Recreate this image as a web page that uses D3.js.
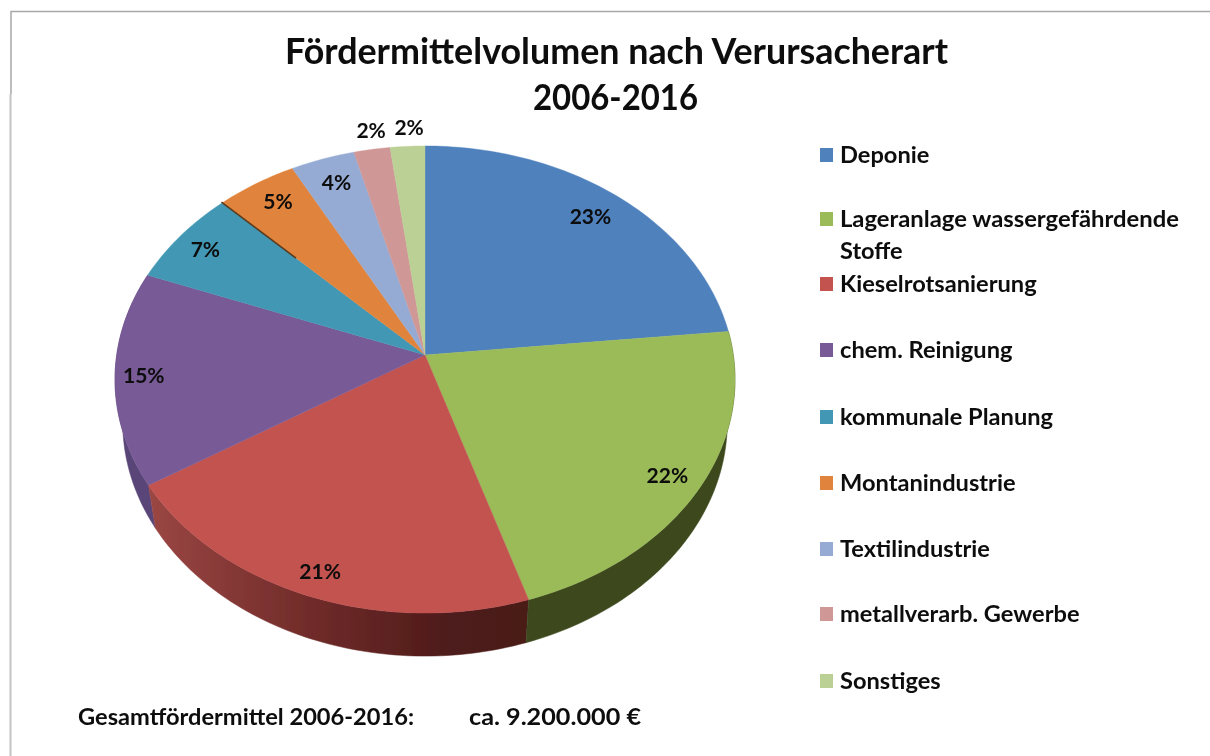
<!DOCTYPE html>
<html><head><meta charset="utf-8">
<script src="https://cdn.jsdelivr.net/npm/d3@7/dist/d3.min.js"></script>
<style>html,body{margin:0;padding:0;background:#fff;overflow:hidden}svg{display:block}text{font-family:Lato,"Open Sans",sans-serif;font-weight:700;fill:#0b0b0b}</style>
</head><body><svg id="c" width="1210" height="756"></svg>
<script>
const categories = ["Deponie","Lageranlage wassergefährdende Stoffe","Kieselrotsanierung","chem. Reinigung","kommunale Planung","Montanindustrie","Textilindustrie","metallverarb. Gewerbe","Sonstiges"];
const shares = [23.4,21.8,21.0,14.8,6.7,4.7,3.7,2.1,2.0];
const colors = ["#4f81bd","#9bbb59","#c25250","#785a96","#4298b4","#e0843c","#95abd3","#d09797","#bbd095"];
const sideColors = ["#3a5578","#3d4a1e","#7a3532","#5a4578","#2b6578","#8f5426","#5f6f8a","#8a6060","#7a8a60"];
const titleLines = ["Fördermittelvolumen nach Verursacherart","2006-2016"];
const footLabel = "Gesamtfördermittel 2006-2016:";
const footValue = "ca. 9.200.000 €";

const svg = d3.select("#c");
const defs = svg.append("defs");
const grad = defs.append("linearGradient").attr("id","redSide").attr("gradientUnits","userSpaceOnUse")
  .attr("x1",150).attr("x2",526).attr("y1",0).attr("y2",0);
grad.append("stop").attr("offset",0).attr("stop-color","#9a4643");
grad.append("stop").attr("offset",.45).attr("stop-color","#6e2a28");
grad.append("stop").attr("offset",.8).attr("stop-color","#4e1b1a");
grad.append("stop").attr("offset",1).attr("stop-color","#4a1a19");
defs.append("filter").attr("id","soft").attr("x","-5%").attr("y","-5%").attr("width","110%").attr("height","110%")
  .append("feGaussianBlur").attr("stdDeviation",.55);

// frame
svg.append("path").attr("d","M1210 11.5H11V94").attr("fill","none").attr("stroke","#a8a8a8").attr("stroke-width",1.5);
svg.append("path").attr("d","M10.5 94V756").attr("fill","none").attr("stroke","#c4c4c4").attr("stroke-width",2);

const root=svg.append("g").attr("filter","url(#soft)");

// perspective projection of a disc
const cx=425, k=-0.105, bTop=308.3, aTop=231, yTop=355;
const proj=(t,r,level)=>{
  const u=r*Math.sin(t), v=-r*Math.cos(t), d=1+k*v;
  const b=level?bTop*0.975:bTop, y0=level?yTop+43:yTop;
  return [cx+b*u/d, y0+aTop*v/d];
};
const pie=d3.pie().sort(null).value(d=>d)(shares);
const line=d3.line();
const arcPts=(a,b,level)=>{
  const n=Math.max(4,Math.ceil((b-a)/0.02));
  return d3.range(n+1).map(i=>proj(a+(b-a)*i/n,1,level));
};
// side walls, front slices only
const g=root.append("g");
[3,2,1].forEach(i=>{
  const p=pie[i];
  const pts=arcPts(p.startAngle,p.endAngle,0).concat(arcPts(p.startAngle,p.endAngle,1).reverse());
  g.append("path").attr("d",line(pts)+"Z").attr("fill",i===2?"url(#redSide)":sideColors[i]).attr("stroke",i===2?"url(#redSide)":sideColors[i]).attr("stroke-width",.5);
});
// top faces
pie.forEach((p,i)=>{
  const pts=[proj(0,0,0)].concat(arcPts(p.startAngle,p.endAngle,0));
  g.append("path").attr("d",line(pts)+"Z").attr("fill",colors[i]).attr("stroke",colors[i]).attr("stroke-width",.4);
});
// dark seam between teal and orange
{const a=pie[5].startAngle;
 g.append("path").attr("d",line([proj(a,.62,0),proj(a,1.005,0)])).attr("stroke","#5b3a1c").attr("stroke-width",1.6).attr("fill","none");}

// labels
const lr=[.74,.86,.94,.94,.8,.78,.72,1.1,1.09];
const lo=[[21,-19],[9,5],[5,-9],[10,-2],[-22,-10],[-13,-19],[-13,-29],[4,-1],[3,-3]];
pie.forEach((p,i)=>{
  const m=(p.startAngle+p.endAngle)/2, q=proj(m,lr[i],0);
  root.append("text").attr("x",q[0]+lo[i][0]).attr("y",q[1]+lo[i][1]).attr("text-anchor","middle").attr("dominant-baseline","central")
    .attr("font-size",21).text(d3.format(".0f")(shares[i])+"%");
});

// title
titleLines.forEach((s,i)=>root.append("text").attr("x",[285,533][i]).attr("y",[64,110][i]).attr("font-size",36)
  .attr("textLength",[663,165][i]).attr("lengthAdjust","spacingAndGlyphs").text(s));

// legend
const rows=[156,220,285,351,418,484,550,615,682];
const stretched=(s,y,f)=>root.append("text").attr("transform",`translate(840,${y}) scale(${f},1)`).attr("font-size",22).text(s);
categories.forEach((c,i)=>{
  const y=rows[i];
  root.append("rect").attr("x",820).attr("y",y-8).attr("width",13).attr("height",14).attr("fill",colors[i]);
  if(i===1){
    stretched("Lageranlage wassergefährdende",y+7,1.083);
    stretched("Stoffe",y+39,1.07);
  } else stretched(c,y+7,1.075);
});
root.append("text").attr("x",78).attr("y",725).attr("font-size",22).attr("textLength",336).attr("lengthAdjust","spacingAndGlyphs").text(footLabel);
root.append("text").attr("x",469).attr("y",725).attr("font-size",22).attr("textLength",172).attr("lengthAdjust","spacingAndGlyphs").text(footValue);
</script></body></html>
